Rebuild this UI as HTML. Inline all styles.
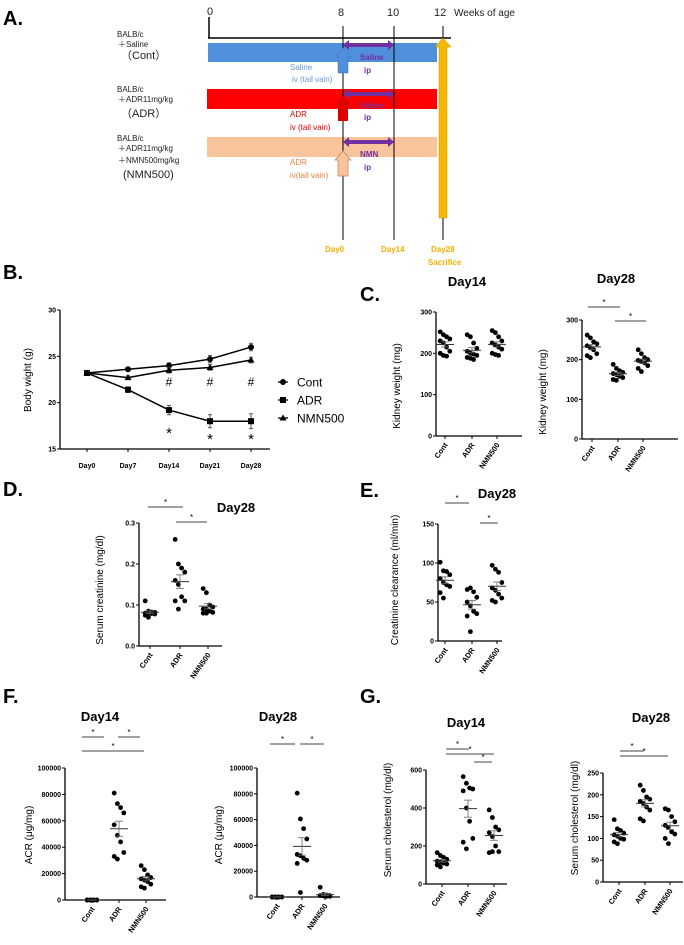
<!DOCTYPE html>
<html><head><meta charset="utf-8">
<style>
html,body{margin:0;padding:0;background:#fff;}
svg{display:block;font-family:"Liberation Sans",sans-serif;}
.lt{font-weight:bold;font-size:20px;}
.tk{font-family:"Liberation Sans Narrow","Liberation Sans",sans-serif;font-weight:bold;font-size:7px;}
.cat{font-weight:bold;font-size:7.5px;}
.yl{font-size:10px;}
.ttl{font-weight:bold;font-size:13px;}
</style></head>
<body>
<svg id="fig" width="684" height="945" viewBox="0 0 684 945" xmlns="http://www.w3.org/2000/svg">
<!-- Panel letters -->
<text class="lt" x="3" y="25">A.</text>
<text class="lt" x="3" y="279">B.</text>
<text class="lt" x="360" y="301">C.</text>
<text class="lt" x="3" y="496">D.</text>
<text class="lt" x="360" y="497">E.</text>
<text class="lt" x="3" y="703">F.</text>
<text class="lt" x="360" y="703">G.</text>

<!-- Panel A timeline -->
<g>
<g font-size="8" fill="#222">
<text x="117" y="37">BALB/c</text><text x="118" y="47">＋Saline</text>
<text x="121" y="59" font-size="11">（Cont）</text>
<text x="117" y="92">BALB/c</text><text x="118" y="102">＋ADR11mg/kg</text>
<text x="121" y="117" font-size="11">（ADR）</text>
<text x="117" y="141">BALB/c</text><text x="118" y="151">＋ADR11mg/kg</text><text x="118" y="163">＋NMN500mg/kg</text>
<text x="123" y="178" font-size="11">(NMN500)</text>
</g>
<g font-size="11" fill="#222">
<text x="207" y="15">0</text><text x="338" y="16">8</text><text x="387" y="16">10</text><text x="434" y="16">12</text>
<text x="454" y="16" font-size="10">Weeks of age</text>
</g>
<rect x="208" y="43" width="229" height="19" fill="#4f8fdc"/>
<rect x="207" y="89" width="230" height="20" fill="#ff0000"/>
<rect x="207" y="137" width="230" height="20" fill="#f9c39c"/>
<line x1="209" y1="17" x2="209" y2="38" stroke="#000" stroke-width="1.5"/>
<line x1="208" y1="38" x2="451" y2="38" stroke="#000" stroke-width="1.5"/>
<line x1="343" y1="26" x2="343" y2="240" stroke="#000" stroke-width="1"/>
<line x1="394" y1="26" x2="394" y2="240" stroke="#000" stroke-width="1"/>
<line x1="443" y1="26" x2="443" y2="240" stroke="#000" stroke-width="1"/>
<!-- purple double arrows -->
<g fill="#7030a0">
<path d="M343 45 L349 40 L349 43 L388 43 L388 40 L394 45 L388 50 L388 47 L349 47 L349 50 Z"/>
<path d="M343 94 L349 89 L349 92 L388 92 L388 89 L394 94 L388 99 L388 96 L349 96 L349 99 Z"/>
<path d="M343 142 L349 137 L349 140 L388 140 L388 137 L394 142 L388 147 L388 144 L349 144 L349 147 Z"/>
</g>
<!-- up arrows -->
<path d="M343 48 L351 57 L348 57 L348 73 L338 73 L338 57 L335 57 Z" fill="#4f8fdc" stroke="#3b6fb0" stroke-width="0.5"/>
<path d="M343 96 L351 105 L348 105 L348 121 L338 121 L338 105 L335 105 Z" fill="#e00000"/>
<path d="M343 151 L351 160 L348 160 L348 176 L338 176 L338 160 L335 160 Z" fill="#f9c39c" stroke="#c08060" stroke-width="0.7"/>
<!-- yellow arrow -->
<path d="M443 38 L451 47 L447 47 L447 218 L439 218 L439 47 L435 47 Z" fill="#f5b800" stroke="#c89000" stroke-width="0.5"/>
<g font-size="8">
<text x="290" y="70" fill="#6a9bd8">Saline</text><text x="292" y="82" fill="#6a9bd8">iv (tail vain)</text>
<text x="360" y="60" fill="#7030a0" font-weight="bold">Saline</text><text x="364" y="73" fill="#7030a0" font-weight="bold">ip</text>
<text x="290" y="117" fill="#e00000">ADR</text><text x="290" y="130" fill="#e00000">iv (tail vain)</text>
<text x="360" y="108" fill="#7030a0" font-weight="bold">Saline</text><text x="364" y="120" fill="#7030a0" font-weight="bold">ip</text>
<text x="290" y="165" fill="#e8833a">ADR</text><text x="290" y="178" fill="#e8833a">iv(tail vain)</text>
<text x="360" y="157" fill="#7030a0" font-weight="bold">NMN</text><text x="364" y="170" fill="#7030a0" font-weight="bold">ip</text>
</g>
<g font-size="8" fill="#f5b000" font-weight="bold">
<text x="325" y="252">Day0</text><text x="381" y="252">Day14</text><text x="431" y="252">Day28</text><text x="428" y="265">Sacrifice</text>
</g>
</g>
<g id="charts"></g>
</svg>
<script>
// ---- Panel B data ----
const bwDays = ["Day0","Day7","Day14","Day21","Day28"];
const bwCont = [23.2,23.6,24.0,24.7,26.0];
const bwAdr = [23.2,21.4,19.2,18.0,18.0];
const bwNmn = [23.2,22.7,23.5,23.8,24.6];
const bwErrCont = [0.2,0.2,0.3,0.4,0.4];
const bwErrAdr = [0.2,0.3,0.5,0.7,0.8];
const bwErrNmn = [0.2,0.2,0.3,0.3,0.3];
const bwTicks = [15,20,25,30];
const groups = ["Cont","ADR","NMN500"];
// ---- Panel C ----
const kw14Cont = [252,245,240,235,230,225,215,205,200,195,193];
const kw14Adr = [245,240,225,212,205,200,198,195,190,188,185];
const kw14Nmn = [255,250,240,230,225,220,215,210,200,197,195];
const kw28Cont = [262,255,245,240,235,230,225,215,210,205];
const kw28Adr = [188,178,172,168,165,162,158,155,150,148];
const kw28Nmn = [225,215,205,200,198,195,192,185,178,170];
const kwTicks = [0,100,200,300];
// ---- Panel D ----
const crCont = [0.11,0.085,0.083,0.082,0.08,0.08,0.079,0.078,0.075,0.07];
const crAdr = [0.26,0.2,0.19,0.18,0.16,0.15,0.12,0.11,0.11,0.09];
const crNmn = [0.14,0.13,0.1,0.095,0.09,0.09,0.085,0.082,0.08,0.08];
const crTicks = [0,0.1,0.2,0.3];
const crTickLabels = ["0.0","0.1","0.2","0.3"];
// ---- Panel E ----
const ccCont = [101,90,89,85,80,75,72,70,62,55];
const ccAdr = [66,68,63,56,50,45,38,35,32,12];
const ccNmn = [97,92,88,75,68,65,60,55,52,50];
const ccTicks = [0,50,100,150];
// ---- Panel F ----
const acr14Cont = [0,0,0,0,0,0,0,0,0,0];
const acr14Adr = [81000,73000,70000,66000,57000,49000,44000,36000,33000,31000];
const acr14Nmn = [26000,23000,19000,17000,16000,15000,14000,12000,10000,9000];
const acr28Cont = [0,0,0,0,0,0,0,0,0,0];
const acr28Adr = [80500,60500,53000,45000,33000,32000,30000,28500,26000,3500];
const acr28Nmn = [7500,2000,1500,1000,1000,800,500,500];
const acrTicks = [0,20000,40000,60000,80000,100000];
// ---- Panel G ----
const ch14Cont = [165,150,140,130,120,115,110,105,100,90];
const ch14Adr = [565,530,505,500,490,400,330,240,220,185];
const ch14Nmn = [390,350,300,285,270,250,200,170,165,170];
const ch28Cont = [143,122,118,112,108,105,100,98,92,88];
const ch28Adr = [222,210,195,190,185,180,172,165,145,140];
const ch28Nmn = [168,165,150,138,130,125,115,110,100,88];
const chTicks14 = [0,200,400,600];
const chTicks28 = [0,50,100,150,200,250];

const NS = "http://www.w3.org/2000/svg";
const root = document.getElementById("charts");
function mk(tag, parent, attrs){
  const e = document.createElementNS(NS, tag);
  for (const k in attrs) e.setAttribute(k, attrs[k]);
  parent.appendChild(e);
  return e;
}
function txt(parent, x, y, s, attrs){
  const t = mk("text", parent, Object.assign({x:x, y:y}, attrs||{}));
  t.textContent = s;
  return t;
}

// ---------- Line chart B ----------
(function(){
  const g = mk("g", root, {});
  
  
  const ox = 60, x0 = 87, dx = 41, yMin = 15, yMax = 30, yB = 449, yT = 310;
  const ys = v => yB - (v - yMin) / (yMax - yMin) * (yB - yT);
  const xs = i => x0 + i * dx;
  mk("line", g, {x1:ox, y1:yT, x2:ox, y2:yB, stroke:"#000", "stroke-width":1.3});
  mk("line", g, {x1:ox, y1:yB, x2:270, y2:yB, stroke:"#000", "stroke-width":1.3});
  bwTicks.forEach(t => {
    mk("line", g, {x1:ox-3, y1:ys(t), x2:ox, y2:ys(t), stroke:"#000"});
    const l = txt(g, ox-4, ys(t)+2.5, String(t), {class:"tk", "text-anchor":"end"});
    
    
  });
  bwDays.forEach((d,i) => {
    mk("line", g, {x1:xs(i), y1:yB, x2:xs(i), y2:yB+3, stroke:"#000"});
    const l = txt(g, xs(i), 468, d, {class:"tk", "text-anchor":"middle"});
    
    
  });
  const yl = txt(g, 0, 0, "Body wight (g)", {class:"yl", transform:"translate(31,380) rotate(-90)", "text-anchor":"middle", "font-size":"11"});
  
  
  const series = [[bwCont,bwErrCont,"circle","cont"],[bwAdr,bwErrAdr,"square","adr"],[bwNmn,bwErrNmn,"tri","nmn500"]];
  function marker(par, kind, x, y){
    if (kind==="circle") return mk("circle", par, {cx:x, cy:y, r:3, fill:"#000"});
    if (kind==="square") return mk("rect", par, {x:x-3, y:y-3, width:6, height:6, fill:"#000"});
    return mk("path", par, {d:`M${x} ${y-3.5} L${x+3.5} ${y+2.5} L${x-3.5} ${y+2.5} Z`, fill:"#000"});
  }
  series.forEach(([vals, errs, kind, nm]) => {
    const sg = mk("g", g, {});
    
    
    const p = mk("polyline", sg, {points: vals.map((v,i)=>xs(i)+","+ys(v)).join(" "), fill:"none", stroke:"#000", "stroke-width":1.5});
    
    
    vals.forEach((v,i) => {
      mk("line", sg, {x1:xs(i), y1:ys(v-errs[i]), x2:xs(i), y2:ys(v+errs[i]), stroke:"#555"});
      mk("line", sg, {x1:xs(i)-2, y1:ys(v-errs[i]), x2:xs(i)+2, y2:ys(v-errs[i]), stroke:"#555"});
      mk("line", sg, {x1:xs(i)-2, y1:ys(v+errs[i]), x2:xs(i)+2, y2:ys(v+errs[i]), stroke:"#555"});
      const m = marker(sg, kind, xs(i), ys(v));
      
      
    });
  });
  [2,3,4].forEach(i => {
    txt(g, xs(i), 386, "#", {"text-anchor":"middle", "font-size":"12"});
    txt(g, xs(i), i===2?438:444, "*", {"text-anchor":"middle", "font-size":"15"});
  });
  const leg = mk("g", g, {});
  
  
  ["Cont","ADR","NMN500"].forEach((n,i) => {
    const y = 382 + i*18;
    mk("line", leg, {x1:278, y1:y, x2:288, y2:y, stroke:"#000", "stroke-width":1.3});
    marker(leg, ["circle","square","tri"][i], 283, y);
    const t = txt(leg, 297, y+4.5, n, {"font-size":"12"});
    
    
  });
})();

// ---------- Scatter plots ----------
function scatter(cfg){
  const g = mk("g", root, {});
  
  
  const {ox, yB, yT, yMax, xEnd, cx} = cfg;
  const ys = v => yB - v / yMax * (yB - yT);
  mk("line", g, {x1:ox, y1:yT, x2:ox, y2:yB, stroke:"#000", "stroke-width":1.3});
  mk("line", g, {x1:ox, y1:yB, x2:xEnd, y2:yB, stroke:"#000", "stroke-width":1.3});
  cfg.ticks.forEach((t,i) => {
    mk("line", g, {x1:ox-3, y1:ys(t), x2:ox, y2:ys(t), stroke:"#000"});
    const l = txt(g, ox-4, ys(t)+2.5, cfg.tickLabels ? cfg.tickLabels[i] : String(t), {class:"tk", "text-anchor":"end"});
    
    
  });
  groups.forEach((gn,i) => {
    mk("line", g, {x1:cx[i], y1:yB, x2:cx[i], y2:yB+3, stroke:"#000"});
    const l = txt(g, 0, 0, gn, {class:"cat", "text-anchor":"end", transform:`translate(${cx[i]+3},${yB+9}) rotate(-55)`});
    
    
  });
  const yl = txt(g, 0, 0, cfg.ylabel, {class:"yl", "text-anchor":"middle", transform:`translate(${cfg.ylx},${cfg.yly}) rotate(-90)`});
  
  
  if (cfg.title){
    const t = txt(g, cfg.title[1], cfg.title[2], cfg.title[0], {class:"ttl", "text-anchor":"middle"});
    
    
  }
  cfg.data.forEach((arr,i) => {
    const dg = mk("g", g, {});
    
    
    const n = arr.length;
    const mean = arr.reduce((a,b)=>a+b,0)/n;
    const sd = Math.sqrt(arr.reduce((a,b)=>a+(b-mean)*(b-mean),0)/(n-1));
    const sem = sd/Math.sqrt(n);
    arr.forEach((v,j) => {
      const off = ((j%4)-1.5)*3.2;
      const c = mk("circle", dg, {cx:cx[i]+off, cy:ys(v), r:2.4, fill:"#000"});
      
      
    });
    const m = mk("line", dg, {x1:cx[i]-9, y1:ys(mean), x2:cx[i]+9, y2:ys(mean), stroke:"#333", "stroke-width":1});
    
    
    mk("line", dg, {x1:cx[i], y1:ys(mean-sem), x2:cx[i], y2:ys(mean+sem), stroke:"#666", "stroke-width":0.8});
    mk("line", dg, {x1:cx[i]-4, y1:ys(mean-sem), x2:cx[i]+4, y2:ys(mean-sem), stroke:"#666", "stroke-width":0.8});
    mk("line", dg, {x1:cx[i]-4, y1:ys(mean+sem), x2:cx[i]+4, y2:ys(mean+sem), stroke:"#666", "stroke-width":0.8});
  });
  (cfg.sig||[]).forEach(s => {
    const b = mk("line", g, {x1:s[0], y1:s[2], x2:s[1], y2:s[2], stroke:"#444", "stroke-width":1});
    
    
    txt(g, (s[0]+s[1])/2, s[2]-2, "*", {"text-anchor":"middle", "font-size":"8"});
  });
}

scatter({name:"kidney-weight-day14", ox:436, yB:436, yT:312, yMax:300, xEnd:522, cx:[445,472,497],
  ticks:kwTicks, data:[kw14Cont,kw14Adr,kw14Nmn], ylabel:"Kidney weight (mg)", ylx:400, yly:386,
  title:["Day14",467,286]});
scatter({name:"kidney-weight-day28", ox:582, yB:439, yT:320, yMax:300, xEnd:678, cx:[592,618,643],
  ticks:kwTicks, data:[kw28Cont,kw28Adr,kw28Nmn], ylabel:"Kidney weight (mg)", ylx:546, yly:392,
  title:["Day28",616,283], sig:[[588,620,307],[615,646,321]]});
scatter({name:"serum-creatinine-day28", ox:139, yB:646, yT:523, yMax:0.3, xEnd:222, cx:[150,180,208],
  ticks:crTicks, tickLabels:crTickLabels, data:[crCont,crAdr,crNmn], ylabel:"Serum creatinine (mg/dl)", ylx:103, yly:590,
  title:["Day28",236,512], sig:[[148,183,507],[176,207,522]]});
scatter({name:"creatinine-clearance-day28", ox:438, yB:641, yT:524, yMax:150, xEnd:502, cx:[445,472,497],
  ticks:ccTicks, data:[ccCont,ccAdr,ccNmn], ylabel:"Creatinine clearance (ml/min)", ylx:398, yly:580,
  title:["Day28",497,498], sig:[[445,469,503],[480,498,523]]});
scatter({name:"acr-day14", ox:65, yB:900, yT:768, yMax:100000, xEnd:166, cx:[92,119,146],
  ticks:acrTicks, data:[acr14Cont,acr14Adr,acr14Nmn], ylabel:"ACR (μg/mg)", ylx:32, yly:835,
  title:["Day14",100,721], sig:[[82,104,737],[118,140,737],[82,144,751]]});
scatter({name:"acr-day28", ox:257, yB:897, yT:768, yMax:100000, xEnd:340, cx:[277,302,325],
  ticks:acrTicks, data:[acr28Cont,acr28Adr,acr28Nmn], ylabel:"ACR (μg/mg)", ylx:222, yly:835,
  title:["Day28",278,721], sig:[[270,295,744],[300,324,744]]});
scatter({name:"serum-cholesterol-day14", ox:426, yB:884, yT:770, yMax:600, xEnd:507, cx:[442,468,494],
  ticks:chTicks14, data:[ch14Cont,ch14Adr,ch14Nmn], ylabel:"Serum cholesterol (mg/dl)", ylx:391, yly:820,
  title:["Day14",466,727], sig:[[446,469,749],[446,494,754],[474,492,762]]});
scatter({name:"serum-cholesterol-day28", ox:603, yB:882, yT:773, yMax:250, xEnd:683, cx:[619,645,670],
  ticks:chTicks28, data:[ch28Cont,ch28Adr,ch28Nmn], ylabel:"Serum cholesterol (mg/dl)", ylx:578, yly:818,
  title:["Day28",651,722], sig:[[620,644,751],[620,668,756]]});
</script>
</body></html>
